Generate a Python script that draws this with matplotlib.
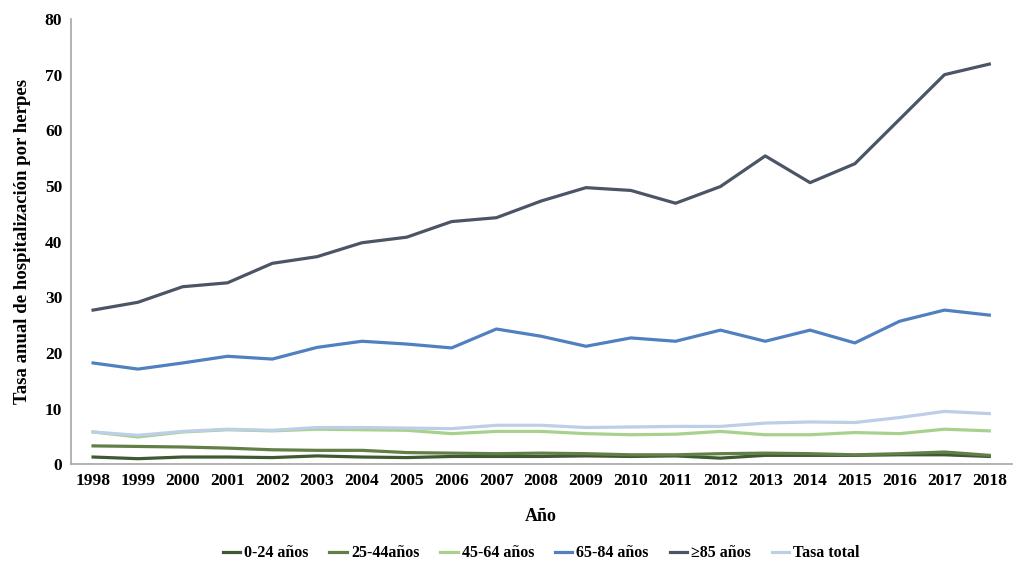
import matplotlib.pyplot as plt
import numpy as np

years = list(range(1998, 2019))

edad_0_24 = [1.3, 1.0, 1.3, 1.3, 1.2, 1.5, 1.3, 1.2, 1.4, 1.4, 1.4, 1.5, 1.4, 1.5, 1.1, 1.6, 1.6, 1.6, 1.7, 1.7, 1.4]
edad_25_44 = [3.3, 3.2, 3.1, 2.9, 2.6, 2.5, 2.5, 2.1, 2.0, 1.9, 2.0, 1.9, 1.7, 1.7, 1.9, 2.0, 1.9, 1.7, 1.9, 2.2, 1.6]
edad_45_64 = [5.8, 4.9, 5.8, 6.2, 6.0, 6.3, 6.2, 6.1, 5.5, 5.9, 5.9, 5.5, 5.3, 5.4, 5.9, 5.3, 5.3, 5.7, 5.5, 6.3, 6.0]
edad_65_84 = [18.2, 17.1, 18.2, 19.4, 18.9, 21.0, 22.1, 21.6, 20.9, 24.3, 23.0, 21.2, 22.7, 22.1, 24.1, 22.1, 24.1, 21.8, 25.7, 27.7, 26.8]
edad_85 = [27.7, 29.1, 31.9, 32.6, 36.1, 37.3, 39.8, 40.8, 43.6, 44.3, 47.3, 49.7, 49.2, 46.9, 49.9, 55.4, 50.6, 54.0, 62.0, 70.0, 71.9]
tasa_total = [5.8, 5.2, 5.9, 6.3, 6.1, 6.6, 6.6, 6.5, 6.4, 7.0, 7.0, 6.6, 6.7, 6.8, 6.8, 7.4, 7.6, 7.5, 8.4, 9.5, 9.1]

series = [
    ("0-24 años", edad_0_24, "#3f5a33"),
    ("25-44años", edad_25_44, "#627f48"),
    ("45-64 años", edad_45_64, "#a9d18e"),
    ("65-84 años", edad_65_84, "#5080c0"),
    ("≥85 años", edad_85, "#4b5566"),
    ("Tasa total", tasa_total, "#bccfe6"),
]

plt.rcParams['font.family'] = ['Liberation Serif', 'DejaVu Serif']
plt.rcParams['font.weight'] = 'bold'

fig = plt.figure(figsize=(10.24, 5.76), dpi=100)
ax = fig.add_axes([0.069, 0.194, 0.919, 0.773])

x = np.arange(len(years))
for nombre, vals, color in series:
    ax.plot(x, vals, color=color, lw=2.3, label=nombre)

ax.set_xlim(-0.5, len(years) - 0.5)
ax.set_ylim(0, 80)
ax.set_xticks(x)
ax.set_xticklabels([str(y) for y in years], fontsize=12.5, fontweight='bold')
ax.set_yticks(range(0, 81, 10))
ax.set_yticklabels([str(v) for v in range(0, 81, 10)], fontsize=12.5, fontweight='bold')
ax.tick_params(length=0, pad=6)

for s in ['top', 'right']:
    ax.spines[s].set_visible(False)
ax.spines['left'].set_color('#a6a6a6')
ax.spines['bottom'].set_color('#a6a6a6')
ax.spines['left'].set_linewidth(1.2)
ax.spines['bottom'].set_linewidth(1.2)

ax.set_xlabel('Año', fontsize=13, fontweight='bold', labelpad=14)
ax.set_ylabel('Tasa anual de hospitalización por herpes', fontsize=13.5, fontweight='bold', labelpad=10)

ax.legend(loc='upper center', bbox_to_anchor=(0.5, -0.15), ncol=6, frameon=False,
          fontsize=11.5, handlelength=1.1, handletextpad=0.25, columnspacing=1.3)

fig.savefig('out.png', dpi=100)
